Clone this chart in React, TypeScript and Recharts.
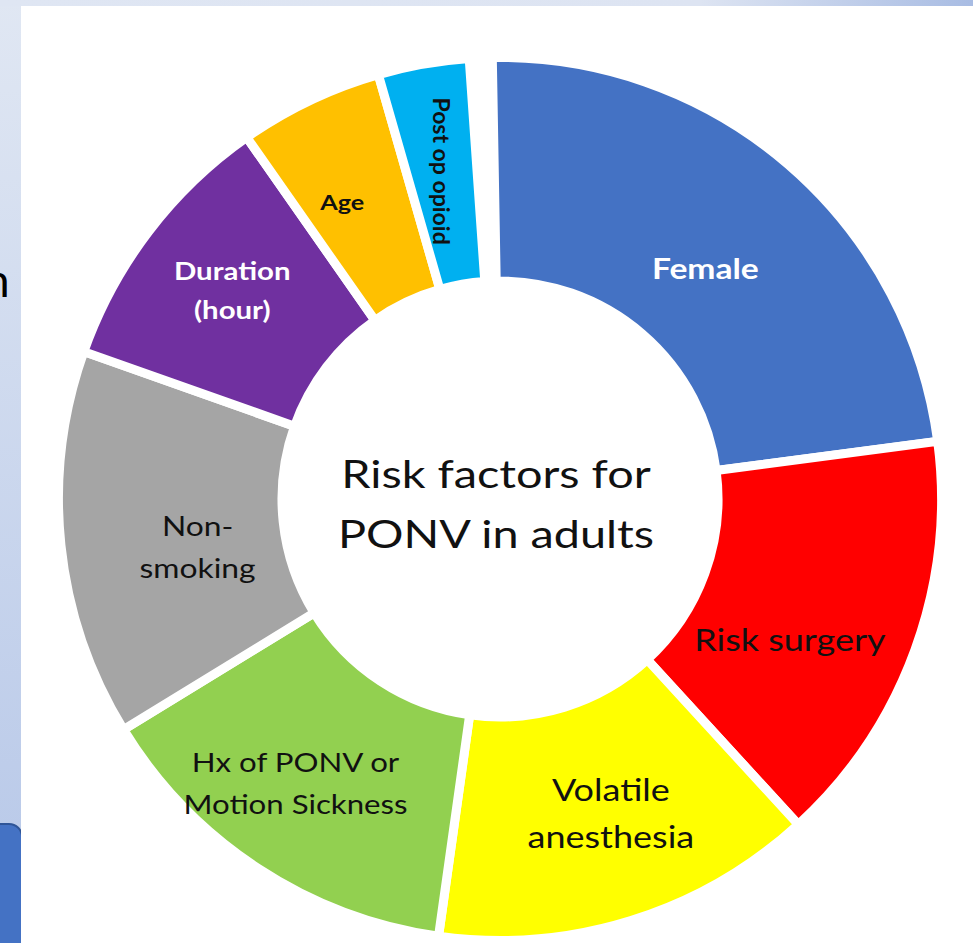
import { Cell, Pie, PieChart } from 'recharts'

// PONV risk factors, clockwise from 12 o'clock
const FACTORS = [
  'Female',
  'Risk surgery',
  'Volatile anesthesia',
  'Hx of PONV or Motion Sickness',
  'Non-smoking',
  'Duration (hour)',
  'Age',
  'Post op opioid',
]
const WEIGHTS = [83.5, 55, 50.5, 50.5, 51, 35.5, 19, 12]
const LABEL_LINES = [
  ['Female'],
  ['Risk surgery'],
  ['Volatile', 'anesthesia'],
  ['Hx of PONV or', 'Motion Sickness'],
  ['Non-', 'smoking'],
  ['Duration', '(hour)'],
  ['Age'],
  ['Post op opioid'],
]
const COLORS = [
  '#4472c4',
  '#ff0000',
  '#ffff00',
  '#92d050',
  '#a5a5a5',
  '#7030a0',
  '#ffc000',
  '#00b0f0',
]
const CENTER_LINES = ['Risk factors for', 'PONV in adults']

// label placement: radius from centre, angle nudge from the slice middle,
// sx = horizontal stretch of the lettering
const LABEL_STYLE = [
  { r: 309, dA: -0.9, size: 28, weight: 700, fill: '#ffffff', rotate: 0, sx: 1.2 },
  { r: 322, dA: -5.8, size: 30, weight: 400, fill: '#111111', rotate: 0, sx: 1.2 },
  { r: 333, dA: 2.2, size: 30, weight: 400, fill: '#111111', rotate: 0, sx: 1.2 },
  { r: 350, dA: -2.5, size: 26, weight: 400, fill: '#111111', rotate: 0, sx: 1.2 },
  { r: 306, dA: 2.8, size: 26.5, weight: 400, fill: '#111111', rotate: 0, sx: 1.2 },
  { r: 340, dA: -0.8, size: 24.5, weight: 700, fill: '#ffffff', rotate: 0, sx: 1.2 },
  { r: 336, dA: 2.5, size: 21, weight: 700, fill: '#111111', rotate: 0, sx: 1.2 },
  { r: 333, dA: 0, size: 23, weight: 700, fill: '#111111', rotate: 90, sx: 1 },
]

const W = 973
const H = 943
// PieChart adds its 5px default margin to cx / cy
const CX = 495
const CY = 494
const FONT = 'Lato, "Open Sans", sans-serif'
const RADIAN = Math.PI / 180

const rows = FACTORS.map((name, i) => ({ name, value: WEIGHTS[i] }))

function renderLabel(props: any) {
  const { cx, cy, midAngle, index } = props
  const st = LABEL_STYLE[index]
  const a = (midAngle + st.dA) * RADIAN
  const x = cx + st.r * Math.cos(-a)
  const y = cy + st.r * Math.sin(-a)
  const lines = LABEL_LINES[index]
  const lh = st.size * 1.58
  const y0 = -((lines.length - 1) * lh) / 2
  return (
    <text
      key={`lbl-${index}`}
      x={0}
      y={0}
      transform={`translate(${x},${y}) rotate(${st.rotate}) scale(${st.sx},1)`}
      textAnchor="middle"
      dominantBaseline="central"
      fontFamily={FONT}
      fontSize={st.size}
      fontWeight={st.weight}
      fill={st.fill}
    >
      {lines.map((ln, i) => (
        <tspan key={i} x={0} y={y0 + i * lh}>
          {ln}
        </tspan>
      ))}
    </text>
  )
}

export default function App() {
  return (
    <div
      style={{
        position: 'absolute',
        left: 0,
        top: 0,
        width: W,
        height: H,
        overflow: 'hidden',
        background: 'linear-gradient(to bottom, #e0e7f3, #b6c7e8)',
      }}
    >
      <div
        style={{
          position: 'absolute',
          left: 0,
          top: 0,
          width: W,
          height: 6,
          background:
            'linear-gradient(to right, #dfe6f3 0%, #dde4f2 72%, #a8bce3 100%)',
        }}
      />
      <div
        style={{
          position: 'absolute',
          left: -30,
          top: 823,
          width: 49,
          height: 150,
          background: '#4472c4',
          border: '2px solid #2f5597',
          borderRadius: 14,
        }}
      />
      <div
        style={{
          position: 'absolute',
          left: 21,
          top: 6,
          right: 0,
          bottom: 0,
          background: '#ffffff',
        }}
      />
      <div style={{ position: 'absolute', left: 0, top: 0 }}>
        <PieChart width={W} height={H}>
          <Pie
            data={rows}
            dataKey="value"
            nameKey="name"
            cx={CX}
            cy={CY}
            innerRadius={218}
            outerRadius={441.5}
            startAngle={91}
            endAngle={-266}
            stroke="#ffffff"
            strokeWidth={9}
            label={renderLabel}
            labelLine={false}
            isAnimationActive={false}
          >
            {rows.map((_, i) => (
              <Cell key={i} fill={COLORS[i]} />
            ))}
          </Pie>
        </PieChart>
      </div>
      <svg
        width={W}
        height={H}
        style={{ position: 'absolute', left: 0, top: 0, pointerEvents: 'none' }}
      >
        <text x={-16} y={297} fontFamily={FONT} fontSize={46} fill="#000">
          n
        </text>
        {CENTER_LINES.map((ln, i) => (
          <text
            key={i}
            x={0}
            y={0}
            transform={`translate(496,${488 + i * 60}) scale(1.2,1)`}
            textAnchor="middle"
            fontFamily={FONT}
            fontSize={39}
            fill="#111111"
          >
            {ln}
          </text>
        ))}
      </svg>
    </div>
  )
}
